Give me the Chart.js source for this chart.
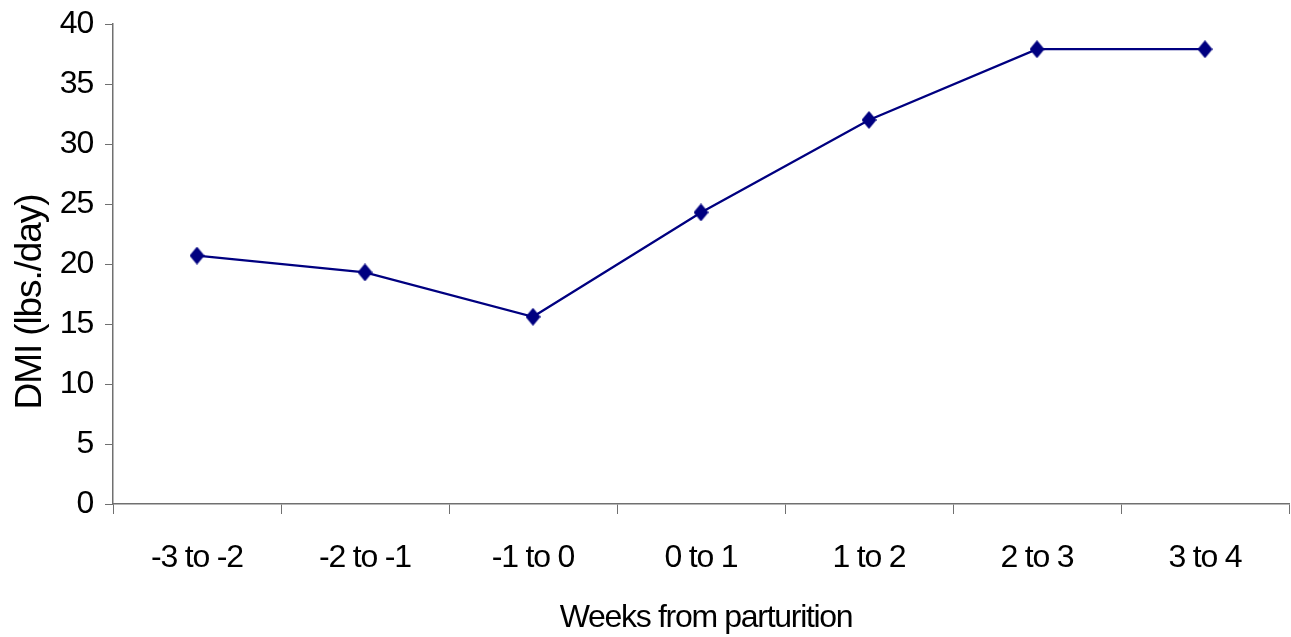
<!DOCTYPE html>
<html>
<head>
<meta charset="utf-8">
<title>DMI around parturition</title>
<script src="https://cdn.jsdelivr.net/npm/chart.js@4"></script>
<style>
  html, body { margin: 0; padding: 0; background: #ffffff; }
  #chart { display: block; }
</style>
</head>
<body>
<canvas id="chart" width="1291" height="637"></canvas>
<script>
// Week intervals relative to calving
const categories = ['-3 to -2', '-2 to -1', '-1 to 0', '0 to 1', '1 to 2', '2 to 3', '3 to 4'];
// Dry matter intake, lbs per day
const dmiValues = [20.7, 19.3, 15.6, 24.3, 32.0, 37.9, 37.9];
// Value axis range
const yMin = 0;
const yMax = 40;
const yStep = 5;

const xTitle = 'Weeks from parturition';
const yTitle = 'DMI (lbs./day)';

const FONT = '"Liberation Sans", Arial, sans-serif';
const AXIS_COLOR = '#707070';
const LINE_COLOR = '#000080';

// Diamond marker, a little taller than wide
function makeDiamond(w, h, color) {
  const c = document.createElement('canvas');
  c.width = w; c.height = h;
  const g = c.getContext('2d');
  g.fillStyle = color;
  g.beginPath();
  g.moveTo(w / 2, 0);
  g.lineTo(w, h / 2);
  g.lineTo(w / 2, h);
  g.lineTo(0, h / 2);
  g.closePath();
  g.fill();
  return c;
}
const diamond = makeDiamond(15, 18, LINE_COLOR);

// Condensed text spacing for all canvas text
const tightText = {
  id: 'tightText',
  beforeLayout(chart) { chart.ctx.letterSpacing = '-1.2px'; },
  beforeDraw(chart) { chart.ctx.letterSpacing = '-1.2px'; }
};

// Axis titles placed relative to the plot area
const axisTitles = {
  id: 'axisTitles',
  afterDraw(chart) {
    const ctx = chart.ctx;
    const area = chart.chartArea;
    ctx.save();
    ctx.fillStyle = '#000000';
    ctx.textAlign = 'center';
    ctx.textBaseline = 'alphabetic';

    ctx.font = '32px ' + FONT;
    ctx.letterSpacing = '-1.3px';
    ctx.fillText(xTitle, (area.left + area.right) / 2 + 5, 627);

    ctx.font = '37px ' + FONT;
    ctx.letterSpacing = '-1.1px';
    ctx.translate(41, 302);
    ctx.rotate(-Math.PI / 2);
    ctx.fillText(yTitle, 0, 0);
    ctx.restore();
  }
};

new Chart(document.getElementById('chart'), {
  type: 'line',
  data: {
    labels: categories,
    datasets: [{
      data: dmiValues,
      borderColor: LINE_COLOR,
      backgroundColor: LINE_COLOR,
      borderWidth: 2.3,
      tension: 0,
      pointStyle: diamond,
      pointRadius: 9,
      pointHoverRadius: 9,
      fill: false
    }]
  },
  options: {
    responsive: false,
    animation: false,
    devicePixelRatio: 1,
    layout: { autoPadding: false, padding: { top: 24, right: 2, left: 0, bottom: 0 } },
    plugins: {
      legend: { display: false },
      tooltip: { enabled: false },
      title: { display: false }
    },
    scales: {
      x: {
        type: 'category',
        offset: true,
        grid: {
          offset: true,
          drawOnChartArea: false,
          drawTicks: true,
          tickLength: 10,
          color: AXIS_COLOR,
          lineWidth: 1
        },
        border: { display: true, color: AXIS_COLOR, width: 1.5 },
        ticks: {
          color: '#000000',
          font: { family: FONT, size: 32 },
          padding: 25,
          maxRotation: 0,
          autoSkip: false
        },
        afterFit(scale) {
          scale.height = 133;
          scale.paddingLeft = 0;
          scale.paddingRight = 0;
        }
      },
      y: {
        min: yMin,
        max: yMax,
        grid: {
          drawOnChartArea: false,
          drawTicks: true,
          tickLength: 8,
          color: AXIS_COLOR,
          lineWidth: 1
        },
        border: { display: true, color: AXIS_COLOR, width: 1.5 },
        ticks: {
          stepSize: yStep,
          color: '#000000',
          font: { family: FONT, size: 32 },
          padding: 12
        },
        afterFit(scale) {
          scale.width = 113;
          scale.paddingTop = 0;
          scale.paddingBottom = 0;
        }
      }
    }
  },
  plugins: [tightText, axisTitles]
});
</script>
</body>
</html>
